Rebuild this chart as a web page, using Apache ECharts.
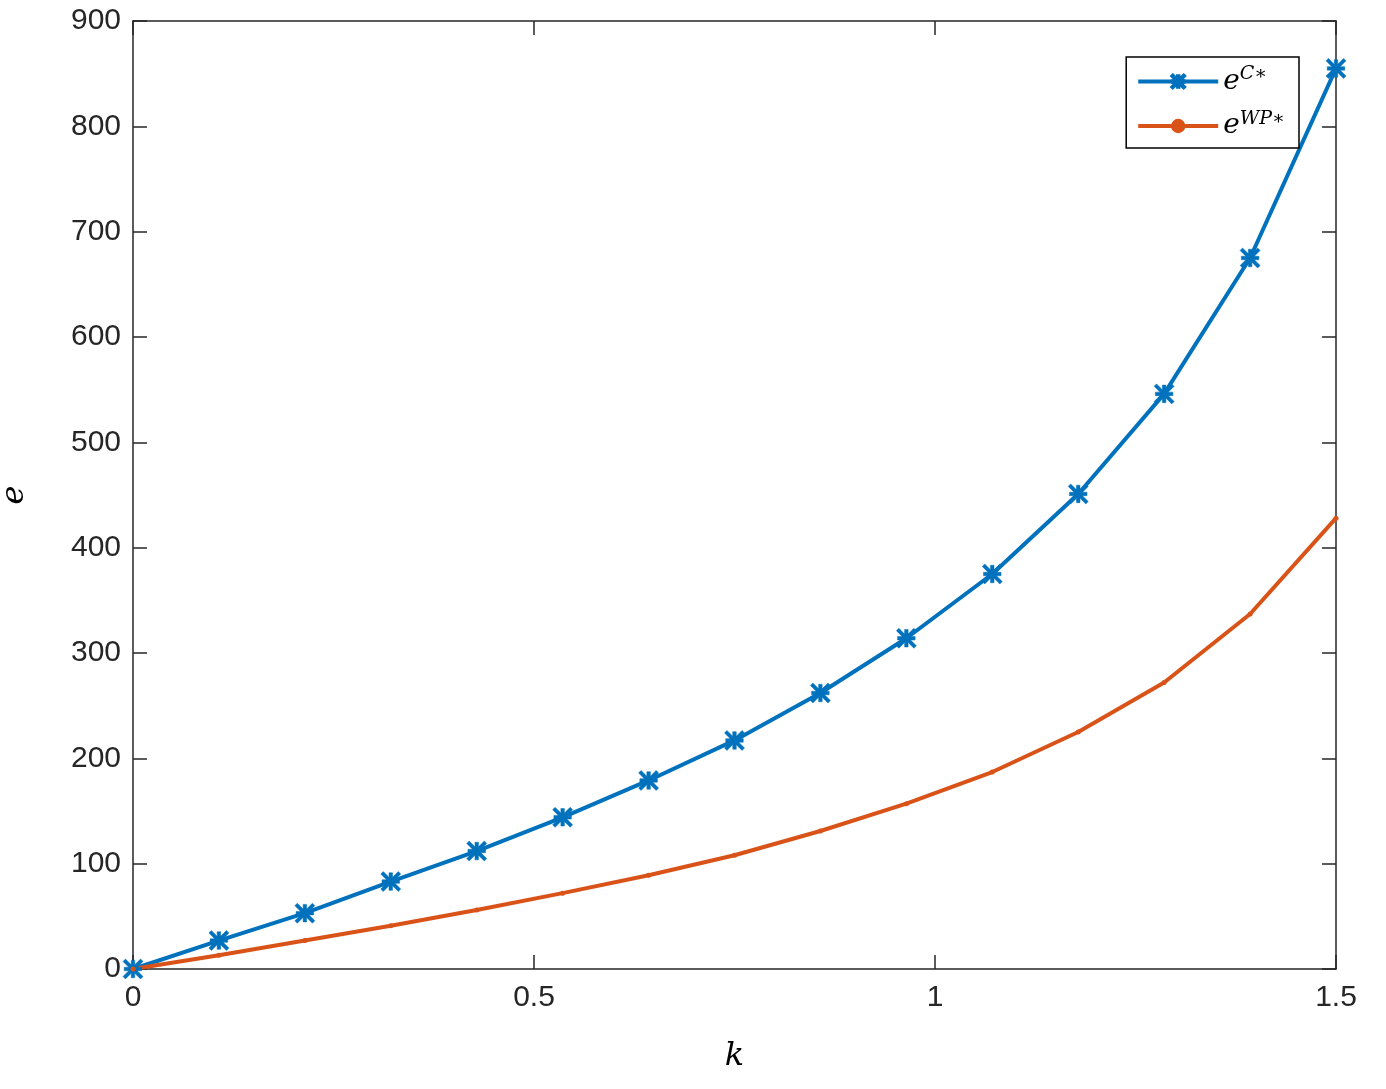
<!DOCTYPE html>
<html>
<head>
<meta charset="utf-8">
<script src="https://cdn.jsdelivr.net/npm/echarts@6/dist/echarts.min.js"></script>
<style>html,body{margin:0;padding:0;background:#fff}#main{width:1386px;height:1089px}</style>
</head>
<body>
<div id="main"></div>
<script>
var kValues = [0, 0.1071, 0.2143, 0.3214, 0.4286, 0.5357, 0.6429, 0.75, 0.8571, 0.9643, 1.0714, 1.1786, 1.2857, 1.3929, 1.5];
var eC = [0, 27, 53, 83, 112, 144, 179, 217, 262, 314, 375, 451, 546, 675, 855];
var eWP = [0, 13, 27, 41, 56, 72, 89, 108, 131, 157, 187, 225, 272, 337, 428];

var chartDom = document.getElementById('main');
var myChart = echarts.init(chartDom);

var star = 'path://M0,4L10,4L10,6L0,6Z M4,0L6,0L6,10L4,10Z M0.7,-0.7L10.7,9.3L9.3,10.7L-0.7,0.7Z M9.3,-0.7L10.7,0.7L0.7,10.7L-0.7,9.3Z';
var tickFont = { fontFamily: 'Liberation Sans', fontSize: 30, color: '#262626' };
var axLine = { show: true, onZero: false, lineStyle: { color: '#262626', width: 1.5 } };
var axTick = { show: true, inside: true, length: 14, lineStyle: { color: '#262626', width: 1.5 } };

function pairs(xs, ys) {
    return xs.map(function (x, i) { return [x, ys[i]]; });
}

var option = {
    animation: false,
    grid: { left: 133, right: 50, top: 21, bottom: 120, containLabel: false, outerBoundsMode: 'none' },
    legend: {
        right: 87, top: 57, orient: 'vertical',
        itemWidth: 80, itemHeight: 18, itemGap: 14,
        padding: [8, 14, 8, 10],
        borderColor: '#000', borderWidth: 1.5, backgroundColor: '#fff',
        data: ['C', 'WP'],
        lineStyle: { width: 4 },
        formatter: function (name) { return '{i|e}{s|' + name + '∗}'; },
        textStyle: {
            rich: {
                i: { fontFamily: 'DejaVu Serif', fontStyle: 'italic', fontSize: 28, color: '#000' },
                s: { fontFamily: 'DejaVu Serif', fontStyle: 'italic', fontSize: 19, color: '#000', verticalAlign: 'top', padding: [0, 0, 14, 0] }
            }
        }
    },
    xAxis: [{
        type: 'value', min: 0, max: 1.5, interval: 0.5,
        name: 'k', nameLocation: 'middle', nameGap: 72,
        nameTextStyle: { fontFamily: 'DejaVu Serif', fontStyle: 'italic', fontSize: 32, color: '#000' },
        axisLine: axLine, axisTick: axTick, splitLine: { show: false },
        axisLabel: Object.assign({ margin: 14, formatter: function (v) { return String(v); } }, tickFont)
    }, {
        type: 'value', min: 0, max: 1.5, interval: 0.5, position: 'top',
        axisLine: axLine, axisTick: axTick, axisLabel: { show: false }, splitLine: { show: false }
    }],
    yAxis: [{
        type: 'value', min: 0, max: 900, interval: 100,
        name: 'e', nameLocation: 'middle', nameGap: 102,
        nameTextStyle: { fontFamily: 'DejaVu Serif', fontStyle: 'italic', fontSize: 32, color: '#000' },
        axisLine: axLine, axisTick: axTick, splitLine: { show: false },
        axisLabel: Object.assign({ margin: 12 }, tickFont)
    }, {
        type: 'value', min: 0, max: 900, interval: 100, position: 'right',
        axisLine: axLine, axisTick: axTick, axisLabel: { show: false }, splitLine: { show: false }
    }],
    series: [{
        name: 'C', type: 'line', data: pairs(kValues, eC),
        symbol: star, symbolSize: 20,
        lineStyle: { color: '#0072BD', width: 4 },
        itemStyle: { color: '#0072BD', borderColor: '#0072BD', borderWidth: 0.5 }
    }, {
        name: 'WP', type: 'line', data: pairs(kValues, eWP),
        symbol: 'circle', symbolSize: 5,
        lineStyle: { color: '#D95319', width: 4 },
        itemStyle: { color: '#D95319' }
    }]
};

myChart.setOption(option);
</script>
</body>
</html>
